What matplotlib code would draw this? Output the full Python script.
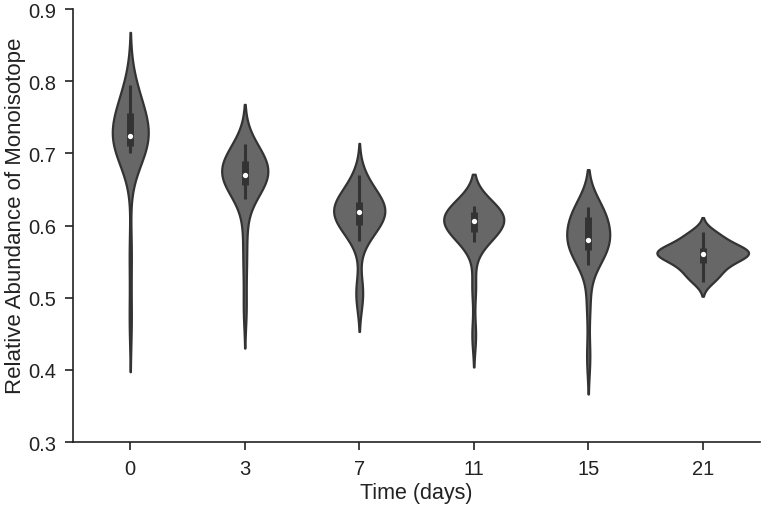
import numpy as np
import pandas as pd
import matplotlib
matplotlib.use("Agg")
import matplotlib.pyplot as plt
import matplotlib.cbook as cbook
import seaborn as sns

# relative abundance of the monoisotope per sampling day
days = ["0", "3", "7", "11", "15", "21"]
day0 = [0.470, 0.560, 0.700, 0.703, 0.706, 0.709, 0.710, 0.712, 0.715, 0.718, 0.721, 0.723,
        0.724, 0.725, 0.728, 0.733, 0.745, 0.755, 0.758, 0.760, 0.765, 0.772, 0.781, 0.795]
day3 = [0.485, 0.545, 0.590, 0.637, 0.648, 0.654, 0.657, 0.660, 0.663, 0.665, 0.667, 0.669,
        0.671, 0.674, 0.677, 0.680, 0.684, 0.688, 0.691, 0.693, 0.696, 0.700, 0.705, 0.713]
day7 = [0.497, 0.515, 0.579, 0.588, 0.595, 0.600, 0.603, 0.607, 0.611, 0.615, 0.618, 0.620,
        0.622, 0.625, 0.628, 0.631, 0.634, 0.637, 0.642, 0.650, 0.658, 0.670]
day11 = [0.448, 0.515, 0.577, 0.582, 0.587, 0.590, 0.593, 0.596, 0.599, 0.602, 0.605, 0.607,
         0.609, 0.611, 0.614, 0.617, 0.619, 0.621, 0.623, 0.625, 0.626, 0.627]
day15 = [0.418, 0.490, 0.545, 0.553, 0.560, 0.566, 0.569, 0.572, 0.575, 0.577, 0.579, 0.582,
         0.587, 0.593, 0.600, 0.608, 0.613, 0.616, 0.619, 0.621, 0.624, 0.626]
day21 = [0.522, 0.528, 0.534, 0.540, 0.544, 0.548, 0.552, 0.556, 0.558, 0.560, 0.561, 0.562,
         0.563, 0.565, 0.567, 0.569, 0.572, 0.577, 0.582, 0.587, 0.591]
groups = [day0, day3, day7, day11, day15, day21]

sns.set_style("ticks")
plt.rcParams["font.family"] = ["Liberation Sans", "DejaVu Sans"]

df = pd.DataFrame({"day": np.repeat(days, [len(g) for g in groups]),
                   "abund": np.concatenate(groups)})

fig = plt.figure(figsize=(7.63, 5.06), dpi=100)
ax = fig.add_axes([0.0957, 0.1245, 0.9003, 0.8557])
sns.violinplot(data=df, x="day", y="abund", order=days, color="#676767",
               linecolor="#333333", linewidth=1.6, inner=None, saturation=1, ax=ax)

# inner box: whiskers, quartile box and white median dot
for i, g in enumerate(groups):
    st = cbook.boxplot_stats(g)[0]
    ax.plot([i, i], [st["whislo"], st["whishi"]], color="#333333", lw=2.2,
            solid_capstyle="butt", zorder=3)
    ax.plot([i, i], [st["q1"], st["q3"]], color="#333333", lw=5,
            solid_capstyle="butt", zorder=3)
    ax.plot(i, st["med"], "o", color="white", ms=3.8, mew=0, zorder=4)

ax.set_xlim(-0.5, 5.5)
ax.set_ylim(0.3, 0.9)
ax.set_yticks([0.3, 0.4, 0.5, 0.6, 0.7, 0.8, 0.9])
sns.despine(ax=ax)
for s in ["left", "bottom"]:
    ax.spines[s].set_linewidth(1.2)
    ax.spines[s].set_color("#222222")
ax.tick_params(length=6, width=1.2, labelsize=14.5, colors="#222222", pad=6)
ax.set_xlabel("Time (days)", fontsize=15.5, color="#222222", labelpad=3)
ax.set_ylabel("Relative Abundance of Monoisotope", fontsize=16, color="#222222")
ax.yaxis.set_label_coords(-0.068, 0.525)

fig.savefig("out.png", dpi=100)
